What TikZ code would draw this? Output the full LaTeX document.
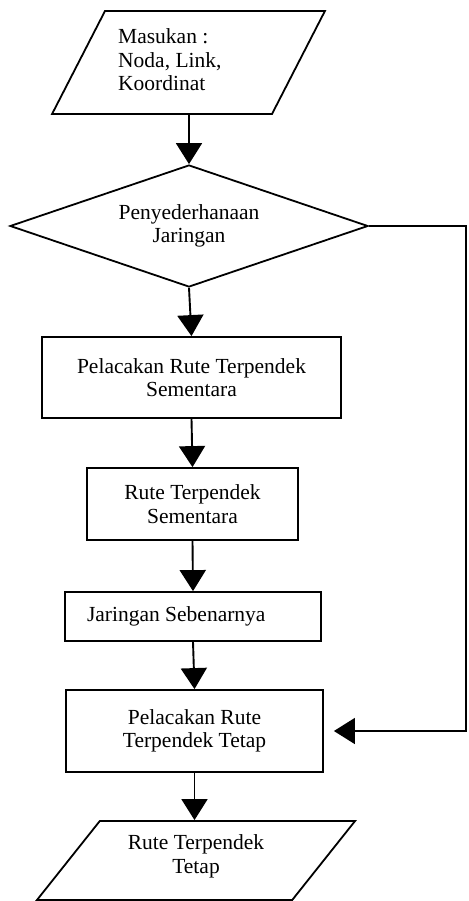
\documentclass[tikz,border=0pt]{standalone}
\usepackage{fontspec}
\setmainfont{Liberation Serif}
\usetikzlibrary{shapes.geometric,arrows.meta}

\begin{document}
\begin{tikzpicture}[x=1pt,y=-1pt,
  every node/.style={font=\fontsize{21.5}{23.5}\selectfont},
  kotak/.style={draw,line width=1.8pt,rectangle,inner sep=0pt,align=center},
  io/.style={draw,line width=1.8pt,trapezium,inner sep=0pt},
  teks/.style={inner sep=0pt},
  panah/.style={line width=1.9pt,-{Triangle[length=21pt,width=26pt]}},
  balikan/.style={line width=1.4pt,-{Triangle[length=21pt,width=26pt]},shorten >=10pt}]
\useasboundingbox (0,0) rectangle (468,901);
\node[io,trapezium left angle=62.8,trapezium right angle=117.2,
  text width=167pt,text height=51.5pt,text depth=51.5pt] (masuk) at (188.5,62.5) {};
\node[teks,align=left,anchor=west] (masukteks) at (118,60) {Masukan :\\Noda, Link,\\Koordinat};
\node[draw,line width=1.8pt,diamond,aspect=2.93,inner sep=0pt,align=center,
  minimum width=358pt,minimum height=122pt] (sederhana) at (189,226) {Penyederhanaan\\Jaringan};
\node[kotak,minimum width=299pt,minimum height=81pt] (lacak1) at (191.5,377.5) {Pelacakan Rute Terpendek\\Sementara};
\node[kotak,minimum width=211pt,minimum height=72pt] (rute1) at (192.5,504) {Rute Terpendek\\Sementara};
\node[kotak,minimum width=256pt,minimum height=49pt,inner xsep=22pt,text width=212pt,align=flush left] (jaringan) at (193,616.5) {Jaringan Sebenarnya};
\node[kotak,minimum width=257pt,minimum height=82pt] (lacak2) at (194.5,731) {Pelacakan Rute\\Terpendek Tetap};
\node[io,trapezium left angle=51.5,trapezium right angle=128.5,
  text width=192.4pt,text height=39.5pt,text depth=39.5pt] (hasil) at (196,860.5) {};
\node[teks,align=center] (hasilteks) at (196,856.5) {Rute Terpendek\\Tetap};
\coordinate (pojok) at (466,226);
\draw[panah] (masuk.south -| sederhana.north) -- (sederhana.north);
\draw[panah] (sederhana.south) -- (lacak1.north);
\draw[panah] (lacak1.south) -- (rute1.north);
\draw[panah] (rute1.south) -- (jaringan.north);
\draw[panah] (jaringan.south) -- (lacak2.north);
\draw[panah] (lacak2.south) -- (lacak2.south |- hasil.north);
\draw[balikan] (sederhana.east) -- (pojok) |- (lacak2.east);
\end{tikzpicture}
\end{document}
